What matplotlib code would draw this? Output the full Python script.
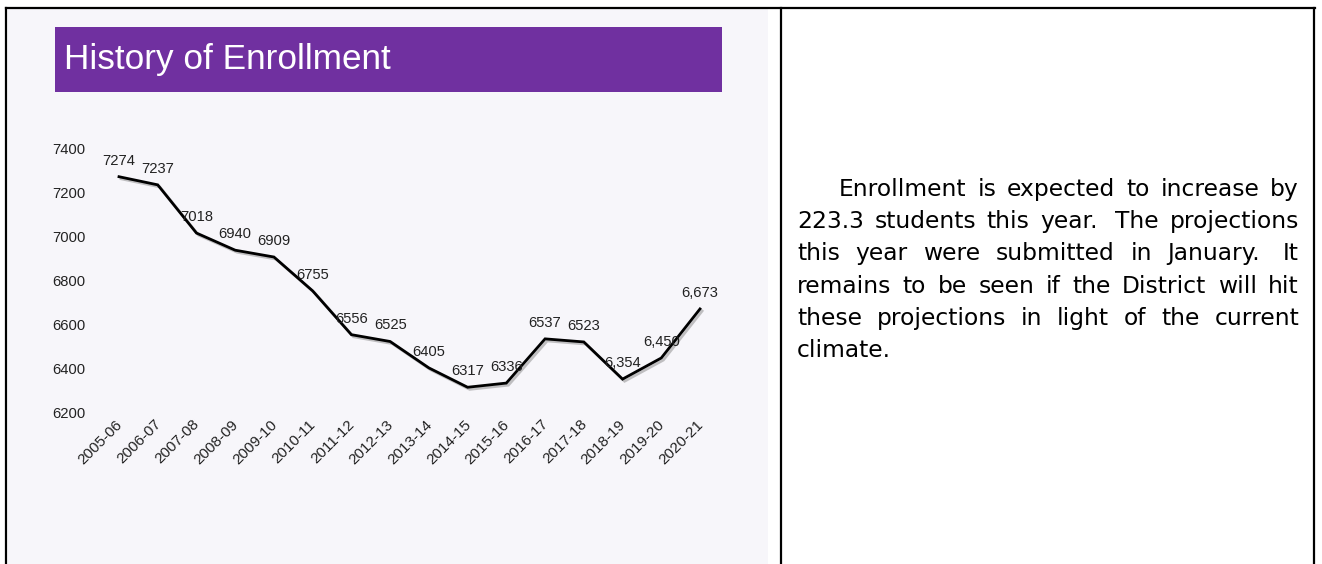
import matplotlib
matplotlib.use("Agg")
import matplotlib.pyplot as plt
import matplotlib.patheffects as pe
import matplotlib.transforms as mtransforms
from matplotlib.patches import Rectangle
from matplotlib.lines import Line2D

# ---------------- data ----------------
years = ["2005-06", "2006-07", "2007-08", "2008-09", "2009-10", "2010-11",
         "2011-12", "2012-13", "2013-14", "2014-15", "2015-16", "2016-17",
         "2017-18", "2018-19", "2019-20", "2020-21"]
enrollment = [7274, 7237, 7018, 6940, 6909, 6755, 6556, 6525, 6405, 6317,
              6336, 6537, 6523, 6354, 6450, 6673]
point_labels = ["7274", "7237", "7018", "6940", "6909", "6755", "6556", "6525",
                "6405", "6317", "6336", "6537", "6523", "6,354", "6,450", "6,673"]
y_ticks = [6200, 6400, 6600, 6800, 7000, 7200, 7400]
title = "History of Enrollment"
para_lines = [
    "Enrollment is expected to increase by",
    "223.3 students this year.  The projections",
    "this year were submitted in January.  It",
    "remains to be seen if the District will hit",
    "these projections in light of the current",
    "climate.",
]

W, H = 1322, 564
fig = plt.figure(figsize=(W / 100, H / 100), dpi=100)
fig.patch.set_facecolor("white")


def fx(px):
    return px / W


def fy(py):
    return 1 - py / H


# left cell background (light dotted texture)
fig.patches.append(Rectangle((fx(8), 0), fx(768 - 8), fy(9), transform=fig.transFigure,
                             facecolor="#f7f6fa", edgecolor="none", zorder=-2))

# table borders
for (x0, y0, x1, y1) in [(6, 8, 1315, 8), (6, 8, 6, 564), (781, 8, 781, 564),
                         (1314, 8, 1314, 564)]:
    fig.add_artist(Line2D([fx(x0), fx(x1)], [fy(y0), fy(y1)], transform=fig.transFigure,
                          color="black", lw=1.6, solid_capstyle="projecting"))

# title bar
fig.patches.append(Rectangle((fx(55), fy(92)), fx(722 - 55), fy(27) - fy(92),
                             transform=fig.transFigure, facecolor="#7030a0",
                             edgecolor="none", zorder=1))
fig.text(fx(64), fy(59), title, color="white", fontsize=25.3,
         family="Liberation Sans", va="center", ha="left", zorder=2)

# chart axes
spacing = (700 - 119) / 15
ax_left = 119 - spacing / 2
ax_right = 700 + spacing / 2
ax = fig.add_axes([fx(ax_left), fy(413), fx(ax_right - ax_left), fy(149) - fy(413)])
ax.set_zorder(3)
ax.set_facecolor("none")
x = list(range(len(years)))
ax.plot(x, enrollment, color="black", lw=2.0, solid_joinstyle="miter",
        path_effects=[pe.SimpleLineShadow(offset=(1.5, -1.5), shadow_color="#888888", alpha=0.5),
                      pe.Normal()])
ax.set_xlim(-0.5, len(years) - 0.5)
ax.set_ylim(6200, 7400)
lab_fs = 10.6
ax.set_yticks(y_ticks)
ax.set_yticklabels([str(v) for v in y_ticks], fontsize=lab_fs, family="Liberation Sans",
                   color="#222222")
ax.set_xticks(x)
ax.set_xticklabels(years, rotation=45, ha="right", rotation_mode="anchor",
                   fontsize=lab_fs + 0.4, family="Liberation Sans", color="#222222")
ax.tick_params(axis="y", length=0, pad=10)
ax.tick_params(axis="x", length=0, pad=3)
shift = mtransforms.ScaledTranslation(-4 / 100, 0, fig.dpi_scale_trans)
for t in ax.get_xticklabels():
    t.set_transform(t.get_transform() + shift)
for s in ax.spines.values():
    s.set_visible(False)
for xi, yi, lab in zip(x, enrollment, point_labels):
    ax.annotate(lab, (xi, yi), xytext=(0, 6.5), textcoords="offset points",
                ha="center", va="bottom", fontsize=lab_fs, family="Liberation Sans",
                color="#222222")

# justified paragraph on the right
fig.canvas.draw()
renderer = fig.canvas.get_renderer()
fsize = 16.8
fam = "DejaVu Sans"


def text_w(s):
    t = fig.text(0, 0, s, fontsize=fsize, family=fam)
    w = t.get_window_extent(renderer).width
    t.remove()
    return w


space_w = text_w("a a") - text_w("aa")
left_px, right_px = 797, 1299
base0, lead = 196, 32.2
for i, line in enumerate(para_lines):
    baseline = base0 + i * lead
    start = 839 if i == 0 else left_px
    if i == len(para_lines) - 1:
        fig.text(fx(start), fy(baseline), line, fontsize=fsize, family=fam,
                 va="baseline", ha="left")
        continue
    parts = line.split(" ")
    words, nsp = [], []
    count = 0
    for p in parts:
        if p == "":
            count += 1
            continue
        if words:
            nsp.append(count)
        words.append(p)
        count = 1
    widths = [text_w(w) for w in words]
    natural = sum(widths) + sum(n * space_w for n in nsp)
    stretch = (right_px - start - natural) / max(len(nsp), 1)
    xpos = start
    for j, w in enumerate(words):
        fig.text(fx(xpos), fy(baseline), w, fontsize=fsize, family=fam,
                 va="baseline", ha="left")
        if j < len(nsp):
            xpos += widths[j] + nsp[j] * space_w + stretch

fig.savefig("out.png", dpi=100)
